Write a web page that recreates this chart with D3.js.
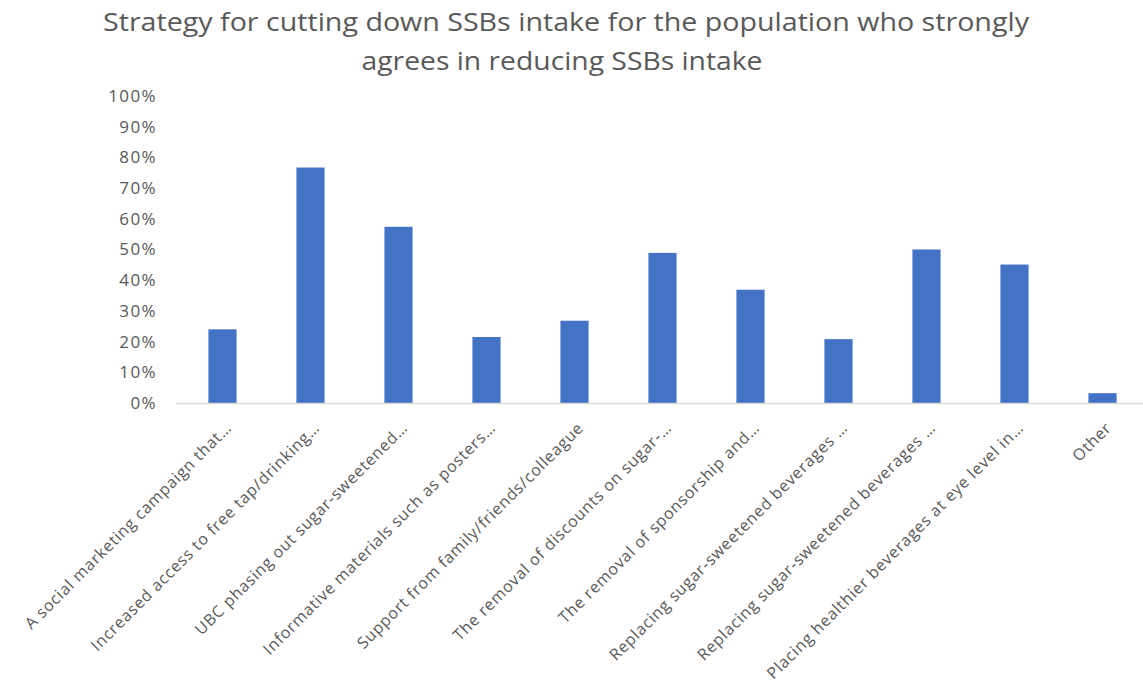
<!DOCTYPE html>
<html><head><meta charset="utf-8">
<script src="https://cdn.jsdelivr.net/npm/d3@7"></script>
<style>body{margin:0;background:#fff}svg{display:block}</style>
</head><body>
<svg id="c" width="1143" height="687"></svg>
<script>
const categories = [
  "A social marketing campaign that…",
  "Increased access to free tap/drinking…",
  "UBC phasing out sugar-sweetened…",
  "Informative materials such as posters…",
  "Support from family/friends/colleague",
  "The removal of discounts on sugar-…",
  "The removal of sponsorship and…",
  "Replacing sugar-sweetened beverages …",
  "Replacing sugar-sweetened beverages …",
  "Placing healthier beverages at eye level in…",
  "Other"
];
const values = [0.24, 0.767, 0.574, 0.215, 0.268, 0.489, 0.369, 0.208, 0.50, 0.451, 0.032];
const yTicks = [0,0.1,0.2,0.3,0.4,0.5,0.6,0.7,0.8,0.9,1.0];
const titleLines = ["Strategy for cutting down SSBs intake for the population  who strongly", "agrees in reducing SSBs intake"];

const svg = d3.select("#c");
const font = "'Open Sans', 'Noto Sans', sans-serif";
const x = d3.scaleBand().domain(d3.range(categories.length)).range([178.5, 1146.5]).paddingInner(0.68).paddingOuter(0.34);
const y = d3.scaleLinear().domain([0,1]).range([403, 96]);

// title
const tl = [[566, 31, 926], [562, 70, 401]];
titleLines.forEach((t,i)=>{
  svg.append("text").attr("x", tl[i][0]).attr("y", tl[i][1]).attr("text-anchor","middle")
    .attr("font-family", font).attr("font-size", 25).attr("fill","#595959")
    .attr("textLength", tl[i][2]).attr("lengthAdjust","spacingAndGlyphs").text(t);
});

// y axis labels
const yAxis = d3.axisLeft(y).tickValues(yTicks).tickFormat(d3.format(".0%")).tickSize(0).tickPadding(0);
const ga = svg.append("g").attr("transform","translate(157,0)").call(yAxis);
ga.select(".domain").remove();
ga.selectAll("text").attr("font-family", font).attr("font-size", 17).attr("fill","#595959")
  .attr("letter-spacing", 1.4);

// bars
svg.append("g").selectAll("rect").data(values).join("rect")
  .attr("x",(d,i)=>x(i)).attr("width", x.bandwidth())
  .attr("y", d=>y(d)).attr("height", d=>y(0)-y(d)).attr("fill","#4472C4");

// baseline
svg.append("line").attr("x1",176).attr("x2",1143).attr("y1",y(0)+0.5).attr("y2",y(0)+0.5)
  .attr("stroke","#d9d9d9").attr("stroke-width",1.5);

// category labels
const xAxis = d3.axisBottom(x).tickFormat(i=>categories[i]).tickSize(0).tickPadding(0);
const gx = svg.append("g").attr("transform",`translate(0,${y(0)})`).call(xAxis);
gx.select(".domain").remove();
gx.selectAll("text").attr("font-family", font).attr("font-size", 16).attr("fill","#595959")
  .attr("letter-spacing", 0.75)
  .attr("text-anchor","end").attr("dy", null).attr("y", 0)
  .attr("transform","translate(10,26) rotate(-45)");
</script>
</body></html>
